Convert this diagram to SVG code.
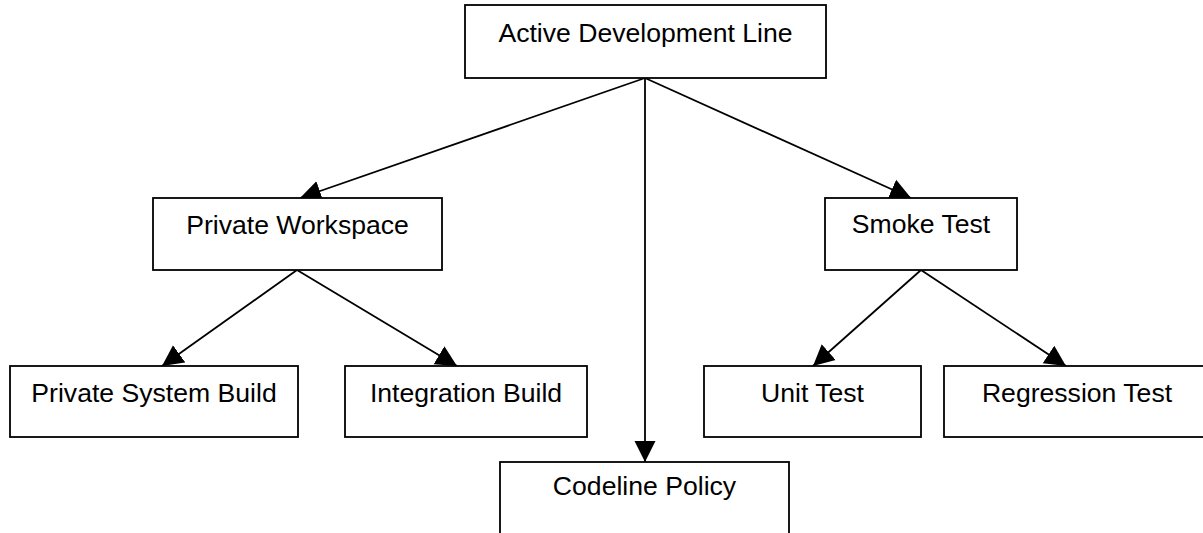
<svg xmlns="http://www.w3.org/2000/svg" width="1203" height="533" viewBox="0 0 1203 533">
<style>
.box{fill:#fff;stroke:#000;stroke-width:1.8}
.lbl{font-family:"Liberation Sans",Arial,sans-serif;font-size:26.6px;fill:#000;text-anchor:middle}
.edge{stroke:#000;stroke-width:1.8;fill:none;marker-end:url(#ah)}
</style>
<defs>
<marker id="ah" markerUnits="userSpaceOnUse" markerWidth="22" markerHeight="22" viewBox="0 0 22 22" refX="21" refY="11" orient="auto">
<path d="M0,0.5 L21,11 L0,21.5 z" fill="#000"/>
</marker>
</defs>
<rect width="1203" height="533" fill="#fff"/>
<g id="connectors">
<line class="edge" x1="645" y1="78" x2="300" y2="198"/>
<line class="edge" x1="645" y1="78" x2="645" y2="462"/>
<line class="edge" x1="645" y1="78" x2="911" y2="198"/>
<line class="edge" x1="297" y1="270" x2="162" y2="366"/>
<line class="edge" x1="297" y1="270" x2="457" y2="366"/>
<line class="edge" x1="921" y1="270" x2="813" y2="366"/>
<line class="edge" x1="921" y1="270" x2="1066" y2="366"/>
</g>
<g id="active-development-line"><rect class="box" x="465" y="5" width="361" height="73"/><text class="lbl" x="645.5" y="42">Active Development Line</text></g>
<g id="private-workspace"><rect class="box" x="153" y="198" width="289" height="72"/><text class="lbl" x="297.5" y="234">Private Workspace</text></g>
<g id="smoke-test"><rect class="box" x="825" y="198" width="192" height="72"/><text class="lbl" x="921" y="233">Smoke Test</text></g>
<g id="private-system-build"><rect class="box" x="10" y="366" width="288" height="71"/><text class="lbl" x="154" y="402">Private System Build</text></g>
<g id="integration-build"><rect class="box" x="345" y="366" width="242" height="71"/><text class="lbl" x="466" y="402">Integration Build</text></g>
<g id="unit-test"><rect class="box" x="704" y="366" width="217" height="71"/><text class="lbl" x="812.5" y="402">Unit Test</text></g>
<g id="regression-test"><rect class="box" x="944" y="366" width="266" height="71"/><text class="lbl" x="1077" y="402">Regression Test</text></g>
<g id="codeline-policy"><rect class="box" x="500" y="462" width="289" height="90"/><text class="lbl" x="644.5" y="495">Codeline Policy</text></g>
</svg>
